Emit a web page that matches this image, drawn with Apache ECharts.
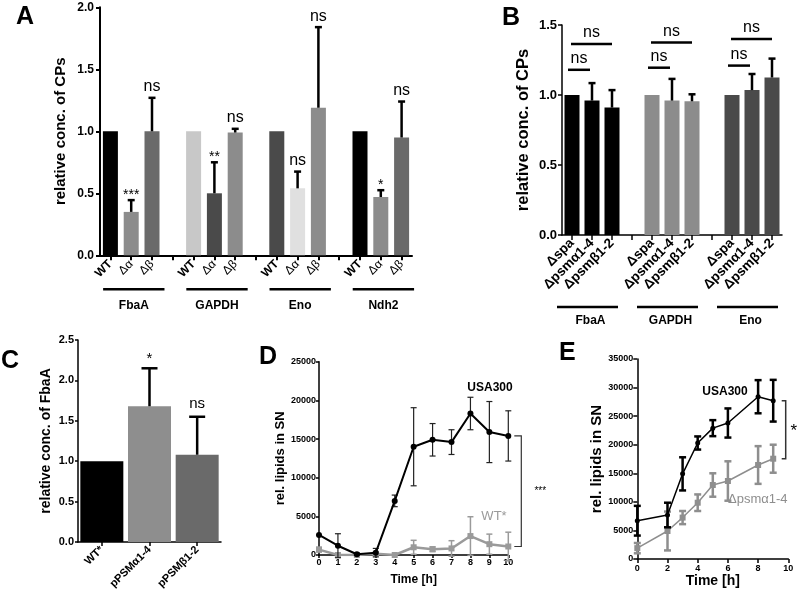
<!DOCTYPE html>
<html>
<head>
<meta charset="utf-8">
<script src="https://cdn.jsdelivr.net/npm/echarts@6.0.0/dist/echarts.min.js"></script>
<style>html,body{margin:0;padding:0;background:#fff}#c{width:800px;height:598px}</style>
</head>
<body>
<div id="c"></div>
<script>
// ---------- Panel A ----------
const aCategories = ['WT','Δα','Δβ','','WT','Δα','Δβ','','WT','Δα','Δβ','','WT','Δα','Δβ'];
const aValues = [1.00,0.35,1.00,null, 1.00,0.50,0.99,null, 1.00,0.54,1.19,null, 1.00,0.47,0.95];
const aErrors = [0,0.095,0.27,null, 0,0.25,0.03,null, 0,0.135,0.65,null, 0,0.055,0.29];
const aSig = ['','***','ns','', '','**','ns','', '','ns','ns','', '','*','ns'];
const aGroups = ['FbaA','GAPDH','Eno','Ndh2'];
const aGroupStart = [0,4,8,12];
const aYTicks = ['0.0','0.5','1.0','1.5','2.0'];
// ---------- Panel B ----------
const bCategories = ['Δspa','Δpsmα1-4','Δpsmβ1-2','', 'Δspa','Δpsmα1-4','Δpsmβ1-2','', 'Δspa','Δpsmα1-4','Δpsmβ1-2'];
const bValues = [1.00,0.96,0.91,null, 1.00,0.96,0.955,null, 1.00,1.035,1.125];
const bErrors = [0,0.125,0.125,null, 0,0.155,0.05,null, 0,0.115,0.135];
const bGroups = ['FbaA','GAPDH','Eno'];
const bGroupStart = [0,4,8];
const bSigShort = [1.18,1.195,1.21];
const bSigLong = [1.365,1.375,1.40];
const bSigText = ['ns','ns','ns'];
const bYTicks = ['0.0','0.5','1.0','1.5'];
// ---------- Panel C ----------
const cCategories = ['WT*','pPSMα1-4','pPSMβ1-2'];
const cValues = [1.00,1.68,1.08];
const cErrors = [0,0.47,0.47];
const cSig = ['','*','ns'];
const cYTicks = ['0.0','0.5','1.0','1.5','2.0','2.5'];
// ---------- Panel D ----------
const dTime = [0,1,2,3,4,5,6,7,8,9,10];
const dUSA300 = [2600,1200,100,300,7000,14000,14900,14600,18300,15900,15400];
const dUSA300Err = [0,1550,150,550,750,5050,2100,1600,2100,3950,3250];
const dWT = [700,0,0,150,0,1000,750,850,2450,1400,1100];
const dWTErr = [300,0,0,200,0,900,300,1000,2500,1300,1850];
// ---------- Panel E ----------
const eTime = [0,2,3,4,5,6,8,9];
const eUSA300 = [6700,7700,14900,20300,22900,23800,28400,27700];
const eUSA300Err = [2600,2150,2900,1150,1400,2550,2900,3650];
const ePsma = [1900,4900,7250,9850,12950,13650,16450,17550];
const ePsmaErr = [900,3400,1150,1450,2050,3450,3300,2450];

// ---------- styles ----------
const F = 'Liberation Sans, Arial, Helvetica, sans-serif';
const aColors = ['#000000','#8c8c8c','#6a6a6a',null,'#c8c8c8','#4a4a4a','#8c8c8c',null,'#4a4a4a','#e0e0e0','#8c8c8c',null,'#000000','#8c8c8c','#6a6a6a'];
const bColors = ['#000000','#000000','#000000',null,'#8c8c8c','#8c8c8c','#8c8c8c',null,'#4a4a4a','#4a4a4a','#4a4a4a'];
const cColors = ['#000000','#8e8e8e','#6a6a6a'];

const chart = echarts.init(document.getElementById('c'), null, {renderer: 'canvas'});

function valAxis(o) {
  return {
    type: 'value', gridIndex: o.g, min: o.min, max: o.max, interval: o.interval,
    name: o.name, nameLocation: 'middle', nameGap: o.nameGap, nameRotate: o.nameRotate,
    nameTextStyle: { fontFamily: F, fontWeight: 'bold', fontSize: o.nameSize, color: '#000' },
    axisLine: { show: true, onZero: false, lineStyle: { color: '#000', width: o.lw } },
    axisTick: { show: true, length: o.tick, lineStyle: { color: '#000', width: o.lw } },
    splitLine: { show: false },
    axisLabel: { fontFamily: F, fontWeight: 'bold', fontSize: o.fs, color: '#000', margin: o.margin,
      formatter: o.labels ? (v) => o.labels[Math.round((v - o.min) / o.interval)] : (v) => String(v) }
  };
}
function catAxis(o) {
  return {
    type: 'category', gridIndex: o.g, data: o.data,
    axisLine: { show: true, onZero: false, lineStyle: { color: '#000', width: o.lw } },
    axisTick: { show: true, alignWithLabel: true, interval: 0, length: o.tick, lineStyle: { color: '#000', width: o.lw } },
    axisLabel: Object.assign({ interval: 0, rotate: 45, margin: o.margin, fontFamily: F, fontWeight: 'bold', fontSize: o.fs, color: '#000' }, o.labelExtra || {})
  };
}

function errRender(errArr, opt) {
  return function (params, api) {
    const i = params.dataIndex;
    const x = api.value(0), y = api.value(1), e = errArr[i];
    if (y == null || isNaN(y)) return;
    const p = api.coord([x, y]);
    const t = api.coord([x, y + (e || 0)]);
    const st = { stroke: opt.color, lineWidth: opt.lw };
    const hw = opt.cap / 2;
    const ch = [];
    if (e) {
      const b = opt.both ? api.coord([x, y - e]) : p;
      ch.push({ type: 'line', shape: { x1: t[0], y1: t[1], x2: b[0], y2: b[1] }, style: st });
      ch.push({ type: 'line', shape: { x1: t[0] - hw, y1: t[1], x2: t[0] + hw, y2: t[1] }, style: st });
      if (opt.both) ch.push({ type: 'line', shape: { x1: b[0] - hw, y1: b[1], x2: b[0] + hw, y2: b[1] }, style: st });
    }
    if (opt.sig && opt.sig[i]) {
      const s = opt.sig[i];
      const star = s.indexOf('*') >= 0;
      ch.push({ type: 'text', style: { text: s, x: t[0], y: t[1] - (star ? opt.starGap : opt.nsGap),
        align: 'center', verticalAlign: 'middle', fontFamily: F, fontSize: star ? opt.starSize : opt.nsSize, fill: '#000' } });
    }
    return { type: 'group', children: ch };
  };
}

function groupRender(names, startArr, lastOff, o) {
  return function (params, api) {
    const i = params.dataIndex;
    const s = startArr[i];
    const slot = api.size([1, 0])[0];
    const c0 = api.coord([s, 0]);
    const c1 = api.coord([s + lastOff, 0]);
    const x0 = c0[0] + o.l * slot, x1 = c1[0] + o.r * slot;
    const y = c0[1] + o.lineDy;
    return { type: 'group', children: [
      { type: 'line', shape: { x1: x0, y1: y, x2: x1, y2: y }, style: { stroke: '#000', lineWidth: o.lw } },
      { type: 'text', style: { text: names[i], x: (x0 + x1) / 2 + o.tdx, y: c0[1] + o.textDy, align: 'center', verticalAlign: 'middle',
        fontFamily: F, fontWeight: 'bold', fontSize: o.fs, fill: '#000' } }
    ] };
  };
}

function bracketRender(topArr, botArr, xArr, o) {
  return function (params, api) {
    const n = xArr.length - 1;
    const top = api.coord([xArr[n], topArr[n]]);
    const bot = api.coord([xArr[n], botArr[n]]);
    const xb = top[0] + o.dx, xt = top[0] + o.tx;
    const st = { stroke: o.color, lineWidth: o.lw };
    return { type: 'group', children: [
      { type: 'polyline', shape: { points: [[xt, top[1]], [xb, top[1]], [xb, bot[1]], [xt, bot[1]]] }, style: Object.assign({ fill: null }, st) },
      { type: 'text', style: { text: o.text, x: xb + o.textDx, y: (top[1] + bot[1]) / 2 + o.textDy, align: 'center', verticalAlign: 'middle',
        fontFamily: F, fontSize: o.fs, fill: '#000' } }
    ] };
  };
}

const option = {
  backgroundColor: '#fff',
  animation: false,
  grid: [
    { left: 100, top: 7.3, width: 312, height: 248, containLabel: false, outerBoundsMode: 'none' },
    { left: 562, top: 25, width: 220, height: 210, containLabel: false, outerBoundsMode: 'none' },
    { left: 78, top: 340, width: 143, height: 202, containLabel: false, outerBoundsMode: 'none' },
    { left: 319, top: 361.7, width: 189.3, height: 193.3, containLabel: false, outerBoundsMode: 'none' },
    { left: 637.3, top: 359, width: 151, height: 200, containLabel: false, outerBoundsMode: 'none' }
  ],
  xAxis: [
    catAxis({ g: 0, data: aCategories, lw: 2, tick: 5, margin: 7, fs: 12,
      labelExtra: { fontWeight: 'normal', formatter: (v) => v === 'WT' ? '{b|WT}' : v, rich: { b: { fontWeight: 'bold', fontFamily: F, fontSize: 12 } } } }),
    catAxis({ g: 1, data: bCategories, lw: 1.5, tick: 5, margin: 6, fs: 13.5 }),
    catAxis({ g: 2, data: cCategories, lw: 1.5, tick: 4, margin: 6, fs: 11 }),
    valAxis({ g: 3, min: 0, max: 10, interval: 1, lw: 1.5, tick: 3, margin: 3, fs: 9,
      name: 'Time [h]', nameGap: 19, nameSize: 12 }),
    valAxis({ g: 4, min: 0, max: 10, interval: 2, lw: 1.5, tick: 4, margin: 5, fs: 9,
      name: 'Time [h]', nameGap: 15, nameSize: 14 })
  ],
  yAxis: [
    valAxis({ g: 0, min: 0, max: 2, interval: 0.5, labels: aYTicks, lw: 2, tick: 4, margin: 6, fs: 12,
      name: 'relative conc. of CPs', nameGap: 32, nameRotate: 90, nameSize: 15 }),
    valAxis({ g: 1, min: 0, max: 1.5, interval: 0.5, labels: bYTicks, lw: 1.5, tick: 4, margin: 5, fs: 13,
      name: 'relative conc. of CPs', nameGap: 30, nameRotate: 90, nameSize: 16.5 }),
    valAxis({ g: 2, min: 0, max: 2.5, interval: 0.5, labels: cYTicks, lw: 1.5, tick: 3, margin: 4, fs: 11,
      name: 'relative conc. of FbaA', nameGap: 25, nameRotate: 90, nameSize: 14 }),
    valAxis({ g: 3, min: 0, max: 25000, interval: 5000, lw: 1.5, tick: 3, margin: 3, fs: 9,
      name: 'rel. lipids in SN', nameGap: 16, nameRotate: 90, nameSize: 13 }),
    valAxis({ g: 4, min: 0, max: 35000, interval: 5000, lw: 1.5, tick: 4, margin: 4, fs: 9,
      name: 'rel. lipids in SN', nameGap: 27, nameRotate: 90, nameSize: 15 })
  ],
  series: [
    // A
    { type: 'bar', xAxisIndex: 0, yAxisIndex: 0, barWidth: 15,
      data: aValues.map((v, i) => ({ value: v, itemStyle: { color: aColors[i] || '#000' } })) },
    { type: 'custom', xAxisIndex: 0, yAxisIndex: 0, clip: false, z: 5,
      data: aValues.map((v, i) => [i, v == null ? NaN : v]),
      renderItem: errRender(aErrors, { color: '#000', lw: 2.5, cap: 7, sig: aSig, starGap: 5, nsGap: 11, starSize: 14, nsSize: 16 }) },
    { type: 'custom', xAxisIndex: 0, yAxisIndex: 0, clip: false,
      data: aGroupStart.map((s) => [s, 0]),
      renderItem: groupRender(aGroups, aGroupStart, 2, { l: -0.35, r: 0.6, lineDy: 34, textDy: 50, lw: 2.5, fs: 12, tdx: 0 }) },
    // B
    { type: 'bar', xAxisIndex: 1, yAxisIndex: 1, barWidth: 15,
      data: bValues.map((v, i) => ({ value: v, itemStyle: { color: bColors[i] || '#000' } })) },
    { type: 'custom', xAxisIndex: 1, yAxisIndex: 1, clip: false, z: 5,
      data: bValues.map((v, i) => [i, v == null ? NaN : v]),
      renderItem: errRender(bErrors, { color: '#000', lw: 2.5, cap: 7 }) },
    { type: 'custom', xAxisIndex: 1, yAxisIndex: 1, clip: false,
      data: bGroupStart.map((s, i) => [s, bSigShort[i], bSigLong[i]]),
      renderItem: function (params, api) {
        const i = params.dataIndex, s = bGroupStart[i];
        const slot = api.size([1, 0])[0];
        const a = api.coord([s, bSigShort[i]]), b = api.coord([s + 1, bSigShort[i]]);
        const c = api.coord([s, bSigLong[i]]), d = api.coord([s + 2, bSigLong[i]]);
        const st = { stroke: '#000', lineWidth: 2.5 };
        const x0 = a[0] - 0.2 * slot, x1 = b[0] - 0.1 * slot, x2 = c[0] - 0.05 * slot, x3 = d[0];
        const tx = { align: 'center', verticalAlign: 'middle', fontFamily: F, fontSize: 16, fill: '#000' };
        return { type: 'group', children: [
          { type: 'line', shape: { x1: x0, y1: a[1], x2: x1, y2: a[1] }, style: st },
          { type: 'line', shape: { x1: x2, y1: c[1], x2: x3, y2: c[1] }, style: st },
          { type: 'text', style: Object.assign({ text: bSigText[i], x: (x0 + x1) / 2, y: a[1] - 11 }, tx) },
          { type: 'text', style: Object.assign({ text: bSigText[i], x: (x2 + x3) / 2, y: c[1] - 11 }, tx) }
        ] };
      } },
    { type: 'custom', xAxisIndex: 1, yAxisIndex: 1, clip: false,
      data: bGroupStart.map((s) => [s, 0]),
      renderItem: groupRender(bGroups, bGroupStart, 2, { l: -0.75, r: 0.3, lineDy: 72, textDy: 86, lw: 2.5, fs: 12, tdx: 3 }) },
    // C
    { type: 'bar', xAxisIndex: 2, yAxisIndex: 2, barWidth: 43,
      data: cValues.map((v, i) => ({ value: v, itemStyle: { color: cColors[i] } })) },
    { type: 'custom', xAxisIndex: 2, yAxisIndex: 2, clip: false, z: 5,
      data: cValues.map((v, i) => [i, v]),
      renderItem: errRender(cErrors, { color: '#000', lw: 2.5, cap: 16, sig: cSig, starGap: 9, nsGap: 13, starSize: 15, nsSize: 15 }) },
    // D
    { type: 'line', xAxisIndex: 3, yAxisIndex: 3, data: dTime.map((t, i) => [t, dWT[i]]),
      symbol: 'rect', symbolSize: 6, lineStyle: { color: '#9a9a9a', width: 2.5 }, itemStyle: { color: '#9a9a9a' }, z: 3 },
    { type: 'custom', xAxisIndex: 3, yAxisIndex: 3, clip: false, z: 2,
      data: dTime.map((t, i) => [t, dWT[i]]),
      renderItem: errRender(dWTErr, { color: '#9a9a9a', lw: 1.5, cap: 6, both: true }) },
    { type: 'line', xAxisIndex: 3, yAxisIndex: 3, data: dTime.map((t, i) => [t, dUSA300[i]]),
      symbol: 'circle', symbolSize: 6, lineStyle: { color: '#000', width: 2 }, itemStyle: { color: '#000' }, z: 4 },
    { type: 'custom', xAxisIndex: 3, yAxisIndex: 3, clip: false, z: 4,
      data: dTime.map((t, i) => [t, dUSA300[i]]),
      renderItem: errRender(dUSA300Err, { color: '#222', lw: 1.2, cap: 6, both: true }) },
    { type: 'custom', xAxisIndex: 3, yAxisIndex: 3, clip: false,
      data: [[0, 0]],
      renderItem: bracketRender(dUSA300, dWT, dTime, { dx: 13, tx: 6, color: '#333', lw: 1.2, text: '***', textDx: 19, textDy: 0, fs: 10 }) },
    // E
    { type: 'line', xAxisIndex: 4, yAxisIndex: 4, data: eTime.map((t, i) => [t, ePsma[i]]),
      symbol: 'rect', symbolSize: 6, lineStyle: { color: '#8e8e8e', width: 1.5 }, itemStyle: { color: '#8e8e8e' }, z: 3 },
    { type: 'custom', xAxisIndex: 4, yAxisIndex: 4, clip: false, z: 3,
      data: eTime.map((t, i) => [t, ePsma[i]]),
      renderItem: errRender(ePsmaErr, { color: '#8e8e8e', lw: 2.5, cap: 7, both: true }) },
    { type: 'line', xAxisIndex: 4, yAxisIndex: 4, data: eTime.map((t, i) => [t, eUSA300[i]]),
      symbol: 'circle', symbolSize: 5, lineStyle: { color: '#000', width: 1.5 }, itemStyle: { color: '#000' }, z: 4 },
    { type: 'custom', xAxisIndex: 4, yAxisIndex: 4, clip: false, z: 4,
      data: eTime.map((t, i) => [t, eUSA300[i]]),
      renderItem: errRender(eUSA300Err, { color: '#000', lw: 2.5, cap: 7, both: true }) },
    { type: 'custom', xAxisIndex: 4, yAxisIndex: 4, clip: false,
      data: [[0, 0]],
      renderItem: bracketRender(eUSA300, ePsma, eTime, { dx: 12.5, tx: 8.5, color: '#333', lw: 1.5, text: '*', textDx: 8, textDy: 2, fs: 17 }) }
  ],
  graphic: [
    { type: 'text', left: 16, top: 5, style: { text: 'A', fontFamily: F, fontWeight: 'bold', fontSize: 25, fill: '#000' } },
    { type: 'text', left: 502, top: 6, style: { text: 'B', fontFamily: F, fontWeight: 'bold', fontSize: 25, fill: '#000' } },
    { type: 'text', left: 1, top: 349, style: { text: 'C', fontFamily: F, fontWeight: 'bold', fontSize: 25, fill: '#000' } },
    { type: 'text', left: 259, top: 345, style: { text: 'D', fontFamily: F, fontWeight: 'bold', fontSize: 25, fill: '#000' } },
    { type: 'text', left: 559, top: 341, style: { text: 'E', fontFamily: F, fontWeight: 'bold', fontSize: 25, fill: '#000' } },
    { type: 'text', x: 490, y: 388, style: { text: 'USA300', align: 'center', verticalAlign: 'middle', fontFamily: F, fontWeight: 'bold', fontSize: 12, fill: '#000' } },
    { type: 'text', x: 494, y: 516, style: { text: 'WT*', align: 'center', verticalAlign: 'middle', fontFamily: F, fontSize: 13, fill: '#9a9a9a' } },
    { type: 'text', x: 725, y: 392, style: { text: 'USA300', align: 'center', verticalAlign: 'middle', fontFamily: F, fontWeight: 'bold', fontSize: 12, fill: '#000' } },
    { type: 'text', x: 728, y: 499, style: { text: 'Δpsmα1-4', align: 'left', verticalAlign: 'middle', fontFamily: F, fontSize: 13, fill: '#8e8e8e' } }
  ]
};
chart.setOption(option);
</script>
</body>
</html>
